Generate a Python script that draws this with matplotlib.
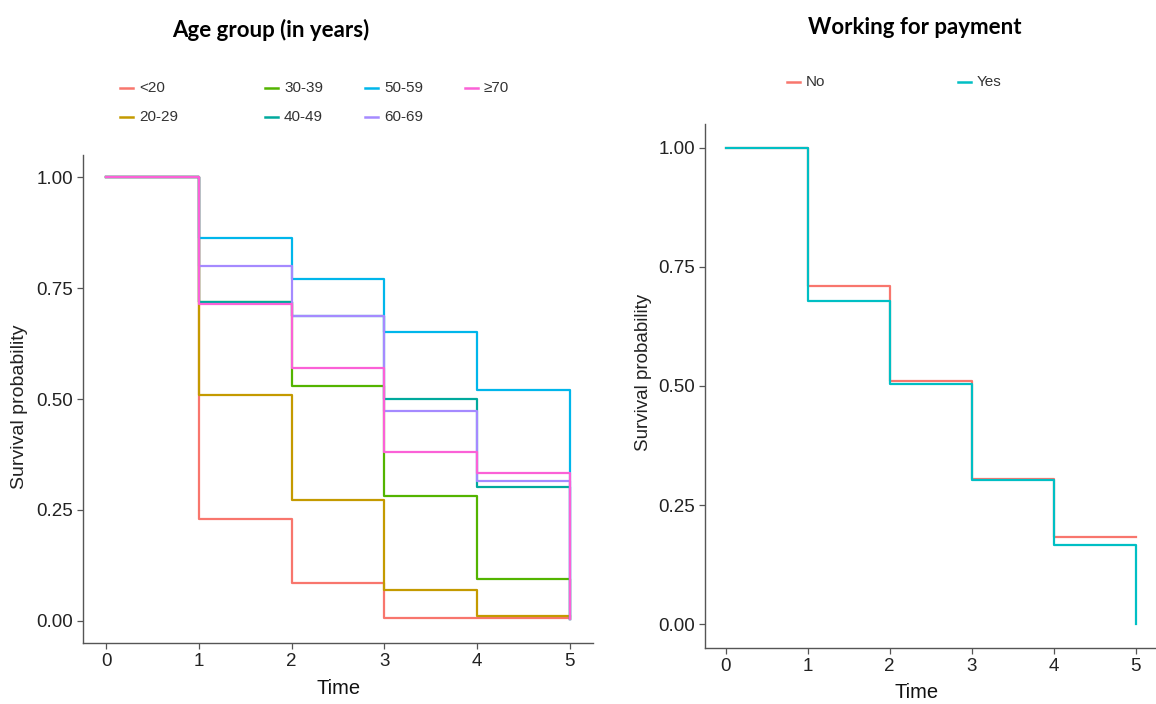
import matplotlib
matplotlib.use("Agg")
import matplotlib.pyplot as plt
from matplotlib.lines import Line2D

# ---- data ----
times = [0, 1, 2, 3, 4, 5]

age_groups = ["<20", "20-29", "30-39", "40-49", "50-59", "60-69", "≥70"]
age_colors = ["#F8766D", "#C49A00", "#53B400", "#00A99D", "#00B6EB", "#A58AFF", "#FB61D7"]
surv_lt20 = [1.00, 0.230, 0.086, 0.006, 0.006, 0.006]
surv_20_29 = [1.00, 0.510, 0.273, 0.070, 0.010, 0.010]
surv_30_39 = [1.00, 0.718, 0.530, 0.281, 0.095, 0.005]
surv_40_49 = [1.00, 0.718, 0.687, 0.499, 0.301, 0.005]
surv_50_59 = [1.00, 0.863, 0.770, 0.651, 0.521, 0.005]
surv_60_69 = [1.00, 0.800, 0.687, 0.474, 0.315, 0.005]
surv_ge70 = [1.00, 0.714, 0.570, 0.381, 0.333, 0.005]
age_surv = [surv_lt20, surv_20_29, surv_30_39, surv_40_49, surv_50_59, surv_60_69, surv_ge70]

work_groups = ["No", "Yes"]
work_colors = ["#F8766D", "#00BFC4"]
work_times = [[0, 1, 2, 3, 4, 5], [0, 1, 2, 3, 4, 5]]
surv_no = [1.00, 0.709, 0.511, 0.304, 0.183, 0.183]
surv_yes = [1.00, 0.679, 0.504, 0.302, 0.166, 0.000]
work_surv = [surv_no, surv_yes]

y_ticks = [0.0, 0.25, 0.5, 0.75, 1.0]
y_ticklabels = ["0.00", "0.25", "0.50", "0.75", "1.00"]

W, H = 1156, 704
FONT = ["Liberation Sans", "DejaVu Sans"]
TITLE_FONT = ["Lato", "DejaVu Sans"]


def px(x, y):
    """pixel position (from top-left) -> figure fraction"""
    return x / W, 1 - y / H


def style_axes(ax):
    for side in ("top", "right"):
        ax.spines[side].set_visible(False)
    for side in ("left", "bottom"):
        ax.spines[side].set_color("#555555")
        ax.spines[side].set_linewidth(1.0)
    ax.set_xlim(-0.25, 5.25)
    ax.set_ylim(-0.05, 1.05)
    ax.set_xticks(times)
    ax.set_yticks(y_ticks)
    ax.set_yticklabels(y_ticklabels)
    ax.tick_params(length=4, width=0.9, color="#555555", labelsize=13.5,
                   labelcolor="#222222", pad=3)
    for lab in ax.get_xticklabels() + ax.get_yticklabels():
        lab.set_family(FONT)


fig = plt.figure(figsize=(W / 100, H / 100), dpi=100)

ax1 = fig.add_axes([83 / W, 1 - 643 / H, 510 / W, 488 / H])
for name, col, s in zip(age_groups, age_colors, age_surv):
    ax1.step(times, s, where="post", color=col, lw=1.6, label=name)
style_axes(ax1)

ax2 = fig.add_axes([705 / W, 1 - 648 / H, 451 / W, 524 / H])
for name, col, t, s in zip(work_groups, work_colors, work_times, work_surv):
    ax2.step(t, s, where="post", color=col, lw=1.6, label=name)
style_axes(ax2)

# titles
fig.text(*px(271, 30), "Age group (in years)", ha="center", va="center",
         fontsize=16, fontweight="bold", family=TITLE_FONT)
fig.text(*px(915, 28), "Working for payment", ha="center", va="center",
         fontsize=16, fontweight="bold", family=TITLE_FONT)

# axis titles
fig.text(*px(20, 407), "Survival probability", rotation=90, ha="center",
         va="center", fontsize=14, family=FONT, color="#222222")
fig.text(*px(643, 372), "Survival probability", rotation=90, ha="center",
         va="center", fontsize=13.5, family=FONT, color="#222222")
fig.text(*px(339, 688), "Time", ha="center", va="center", fontsize=14.5,
         family=FONT, color="#111111")
fig.text(*px(917, 692), "Time", ha="center", va="center", fontsize=14.5,
         family=FONT, color="#111111")

# legends, laid out like the ggplot ones
age_key_pos = [(120, 88), (120, 117), (265, 88), (265, 117),
               (365, 88), (365, 117), (465, 88)]
work_key_pos = [(787, 82), (958, 82)]
for names, cols, positions in ((age_groups, age_colors, age_key_pos),
                               (work_groups, work_colors, work_key_pos)):
    for name, col, (x, y) in zip(names, cols, positions):
        x0, y0 = px(x, y)
        x1, _ = px(x + 13, y)
        fig.add_artist(Line2D([x0, x1], [y0, y0], color=col, lw=1.8,
                              transform=fig.transFigure))
        fig.text(*px(x + 19, y), name, ha="left", va="center", fontsize=11,
                 family=FONT, color="#333333")

fig.savefig("out.png", dpi=100)
